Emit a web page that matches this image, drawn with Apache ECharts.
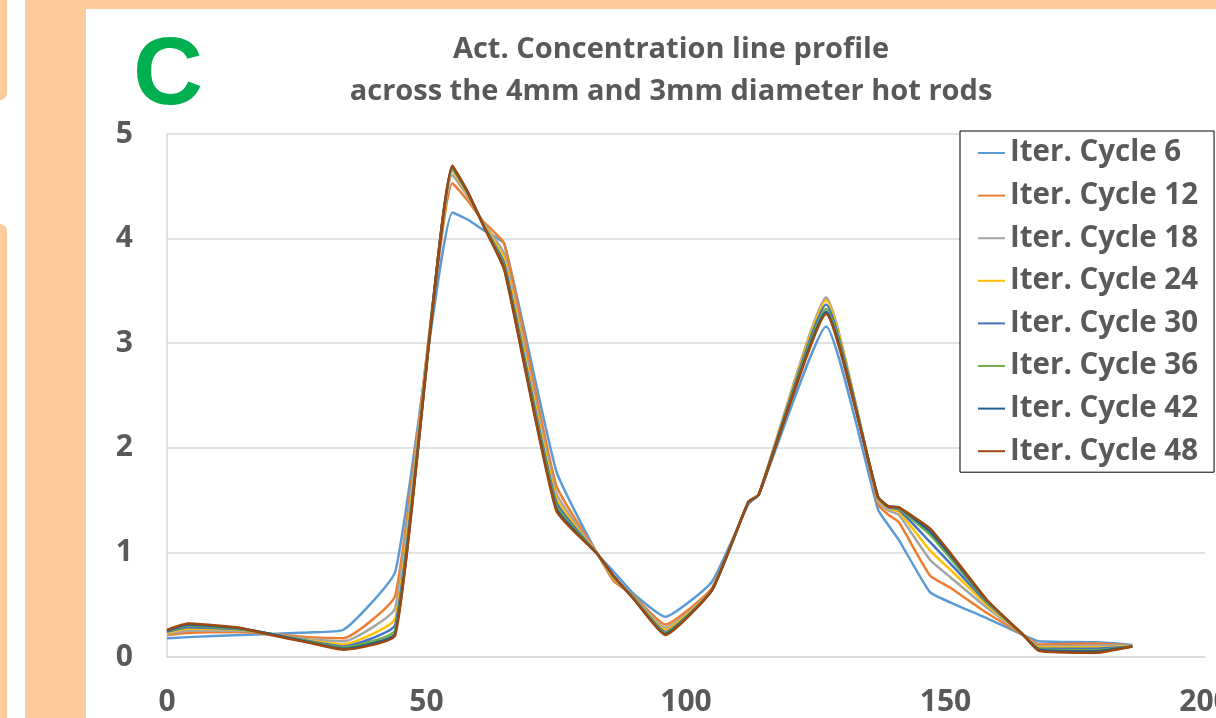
<!DOCTYPE html>
<html>
<head>
<meta charset="utf-8">
<script src="https://cdn.jsdelivr.net/npm/echarts@6/dist/echarts.min.js"></script>
<style>
  html, body { margin: 0; padding: 0; }
  #main { width: 1216px; height: 718px; }
</style>
</head>
<body>
<div id="main"></div>
<script>
// 位置（横轴）
var xPos = [0, 4, 14, 20, 27, 34, 44, 55, 58, 61, 65, 75, 83, 86, 90, 96, 105, 112, 114, 127, 137, 139, 141, 147, 151, 158, 165, 168, 179, 186];

// 各迭代次数的浓度
var cycle6  = [0.18, 0.19, 0.21, 0.22, 0.235, 0.26, 0.82, 4.25, 4.18, 4.08, 3.95, 1.78, 0.98, 0.82, 0.60, 0.385, 0.72, 1.46, 1.55, 3.16, 1.41, 1.26, 1.12, 0.62, 0.52, 0.37, 0.21, 0.15, 0.14, 0.115];
var cycle12 = [0.21, 0.23, 0.24, 0.22, 0.19, 0.18, 0.59, 4.53, 4.36, 4.16, 3.95, 1.64, 0.98, 0.73, 0.58, 0.31, 0.66, 1.48, 1.55, 3.43, 1.46, 1.36, 1.29, 0.78, 0.66, 0.42, 0.21, 0.12, 0.13, 0.11];
var cycle18 = [0.22, 0.25, 0.25, 0.22, 0.17, 0.15, 0.47, 4.61, 4.40, 4.15, 3.85, 1.57, 0.98, 0.75, 0.57, 0.28, 0.64, 1.48, 1.55, 3.44, 1.49, 1.40, 1.36, 0.93, 0.76, 0.47, 0.21, 0.10, 0.11, 0.11];
var cycle24 = [0.23, 0.27, 0.26, 0.22, 0.16, 0.12, 0.37, 4.65, 4.42, 4.14, 3.80, 1.52, 0.98, 0.76, 0.56, 0.26, 0.64, 1.48, 1.55, 3.41, 1.51, 1.42, 1.39, 1.02, 0.83, 0.50, 0.21, 0.09, 0.09, 0.105];
var cycle30 = [0.24, 0.285, 0.265, 0.22, 0.155, 0.10, 0.31, 4.67, 4.43, 4.13, 3.76, 1.48, 0.98, 0.77, 0.56, 0.24, 0.64, 1.48, 1.55, 3.37, 1.52, 1.43, 1.41, 1.10, 0.89, 0.52, 0.21, 0.08, 0.08, 0.10];
var cycle36 = [0.245, 0.30, 0.27, 0.22, 0.15, 0.09, 0.26, 4.68, 4.43, 4.13, 3.73, 1.45, 0.98, 0.77, 0.56, 0.23, 0.64, 1.48, 1.55, 3.33, 1.53, 1.44, 1.42, 1.17, 0.94, 0.53, 0.21, 0.075, 0.065, 0.10];
var cycle42 = [0.25, 0.31, 0.275, 0.22, 0.145, 0.08, 0.23, 4.69, 4.44, 4.12, 3.71, 1.42, 0.98, 0.78, 0.55, 0.22, 0.64, 1.48, 1.55, 3.30, 1.53, 1.44, 1.43, 1.20, 0.97, 0.54, 0.21, 0.07, 0.055, 0.10];
var cycle48 = [0.26, 0.32, 0.28, 0.21, 0.14, 0.07, 0.21, 4.70, 4.44, 4.12, 3.70, 1.40, 0.98, 0.78, 0.55, 0.21, 0.64, 1.48, 1.55, 3.28, 1.53, 1.44, 1.43, 1.23, 0.99, 0.545, 0.21, 0.06, 0.04, 0.10];

var seriesNames = ['Iter. Cycle 6', 'Iter. Cycle 12', 'Iter. Cycle 18', 'Iter. Cycle 24',
                   'Iter. Cycle 30', 'Iter. Cycle 36', 'Iter. Cycle 42', 'Iter. Cycle 48'];
var seriesValues = [cycle6, cycle12, cycle18, cycle24, cycle30, cycle36, cycle42, cycle48];

var titleLines = ['Act. Concentration line profile', 'across the 4mm and 3mm diameter hot rods'];
var panelLabel = 'C';

var colors = ['#5B9BD5', '#ED7D31', '#A5A5A5', '#FFC000', '#4472C4', '#70AD47', '#255E91', '#9E480E'];
var gray = '#595959';
var peach = '#FDCB9B';

// 组合 [x, y]
function pairs(vals) {
    return vals.map(function (v, i) { return [xPos[i], v]; });
}

var myChart = echarts.init(document.getElementById('main'));

var option = {
    backgroundColor: peach,
    animation: false,
    color: colors,
    graphic: [
        // 左侧白条和边角
        { type: 'rect', shape: { x: 0, y: 0, width: 25, height: 718 }, style: { fill: '#fff' }, z: -10 },
        { type: 'rect', shape: { x: -10, y: -10, width: 17, height: 110, r: 7 }, style: { fill: peach }, z: -9 },
        { type: 'rect', shape: { x: -10, y: 224, width: 17, height: 510, r: 7 }, style: { fill: peach }, z: -9 },
        // 白色面板
        { type: 'rect', shape: { x: 86, y: 9, width: 1140, height: 720 }, style: { fill: '#fff' }, z: -10 },
        {
            type: 'text', left: 133, top: 29, z: 10,
            style: { text: panelLabel, fill: '#00B050', font: 'bold 97px "Liberation Sans", Arial, sans-serif' }
        }
    ],
    title: {
        text: titleLines.join('\n'),
        left: 666,
        top: 24,
        textAlign: 'center',
        textStyle: {
            fontFamily: '"Open Sans", sans-serif',
            fontWeight: 'bold',
            fontSize: 29,
            lineHeight: 42,
            color: gray
        }
    },
    legend: {
        orient: 'vertical',
        left: 960,
        top: 131,
        padding: [7, 16, 6, 18],
        borderColor: '#000',
        borderWidth: 1,
        backgroundColor: '#fff',
        itemWidth: 27,
        itemHeight: 2,
        itemGap: 12.6,
        icon: 'rect',
        data: seriesNames,
        textStyle: {
            fontFamily: '"Open Sans", sans-serif',
            fontWeight: 'bold',
            fontSize: 29.5,
            lineHeight: 30,
            color: gray,
            padding: [0, 0, 0, 0]
        }
    },
    grid: {
        left: 167,
        right: 11,
        top: 134,
        bottom: 61,
        outerBoundsMode: 'none',
        containLabel: false
    },
    xAxis: {
        type: 'value',
        min: 0,
        max: 200,
        interval: 50,
        axisLine: { show: true, lineStyle: { color: '#D9D9D9', width: 1.5 } },
        axisTick: { show: false },
        splitLine: { show: false },
        axisLabel: {
            margin: 30,
            color: gray,
            fontFamily: '"Open Sans", sans-serif',
            fontWeight: 'bold',
            fontSize: 30
        }
    },
    yAxis: {
        type: 'value',
        min: 0,
        max: 5,
        interval: 1,
        axisLine: { show: true, lineStyle: { color: '#D9D9D9', width: 1.5 } },
        axisTick: { show: false },
        splitLine: { show: true, lineStyle: { color: '#D9D9D9', width: 1.5 } },
        axisLabel: {
            margin: 34,
            color: gray,
            fontFamily: '"Open Sans", sans-serif',
            fontWeight: 'bold',
            fontSize: 30
        }
    },
    series: seriesNames.map(function (name, i) {
        return {
            name: name,
            type: 'line',
            data: pairs(seriesValues[i]),
            smooth: 0.15,
            showSymbol: false,
            symbol: 'none',
            lineStyle: { width: 2.5, color: colors[i] },
            itemStyle: { color: colors[i] },
            z: 2 + i
        };
    })
};

myChart.setOption(option);
window.addEventListener('resize', function () {
    myChart.resize();
});
</script>
</body>
</html>
